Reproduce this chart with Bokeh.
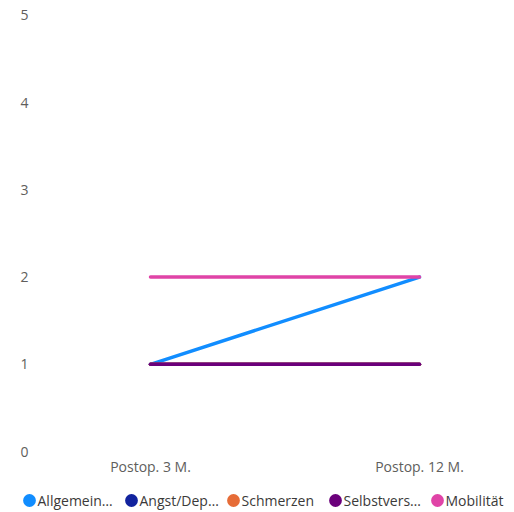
from bokeh.plotting import figure
from bokeh.models import Range1d, FixedTicker, Legend, LegendItem
from bokeh.embed import file_html
from bokeh.resources import INLINE

categories = ["Postop. 3 M.", "Postop. 12 M."]
series_names = ["Allgemein…", "Angst/Dep…", "Schmerzen", "Selbstvers…", "Mobilität"]
series_colors = ["#118DFF", "#12239E", "#E66C37", "#6B007B", "#E044A7"]
allgemein = [1, 2]
angst = [1, 1]
schmerzen = [1, 1]
selbstvers = [1, 1]
mobilitaet = [2, 2]
series_values = [allgemein, angst, schmerzen, selbstvers, mobilitaet]
y_ticks = [0, 1, 2, 3, 4, 5]

FONT = "Open Sans"

xs = list(range(len(categories)))

# frame covers the whole figure; axes are pinned with fixed_location
X0, X1 = -0.5576, 1.3532
Y0, Y1 = -0.6995, 5.1720
p = figure(width=514, height=512, output_backend="svg", toolbar_location=None,
           x_range=Range1d(X0, X1), y_range=Range1d(Y0, Y1),
           min_border_left=0, min_border_right=0, min_border_top=0, min_border_bottom=0)
p.outline_line_color = None
p.xgrid.visible = False
p.ygrid.visible = False

for ax in (p.xaxis, p.yaxis):
    ax.axis_line_color = None
    ax.major_tick_line_color = None
    ax.minor_tick_line_color = None
    ax.major_tick_out = 0
    ax.major_tick_in = 0
    ax.minor_tick_out = 0
    ax.major_label_text_font = FONT
    ax.major_label_text_font_size = "14px"
    ax.major_label_text_color = "#605E5C"

p.xaxis.ticker = FixedTicker(ticks=xs)
p.xaxis.major_label_overrides = {i: c for i, c in zip(xs, categories)}
p.xaxis.major_label_standoff = 5
p.xaxis.fixed_location = 0
p.yaxis.ticker = FixedTicker(ticks=y_ticks)
p.yaxis.major_label_standoff = 17
p.yaxis.fixed_location = -0.3903

items = []
for name, color, vals in zip(series_names, series_colors, series_values):
    p.line(xs, vals, line_color=color, line_width=3.5, line_cap="round")
for name, color, vals in zip(series_names, series_colors, series_values):
    r = p.ellipse(xs, vals, width=1, height=1, width_units="screen", height_units="screen",
                  fill_color=color, line_color=None, level="underlay")
    items.append(LegendItem(label=name, renderers=[r]))

legend = Legend(items=items, orientation="horizontal", location=(20.5, 2.5),
                padding=0, margin=0, spacing=0, glyph_width=16, glyph_height=16,
                label_standoff=1, label_width=85, label_height=16,
                label_text_font=FONT, label_text_font_size="14px",
                label_text_color="#3B3A39", background_fill_alpha=0,
                border_line_color=None)
p.add_layout(legend, "center")

open("out.html", "w").write(file_html(p, INLINE))
